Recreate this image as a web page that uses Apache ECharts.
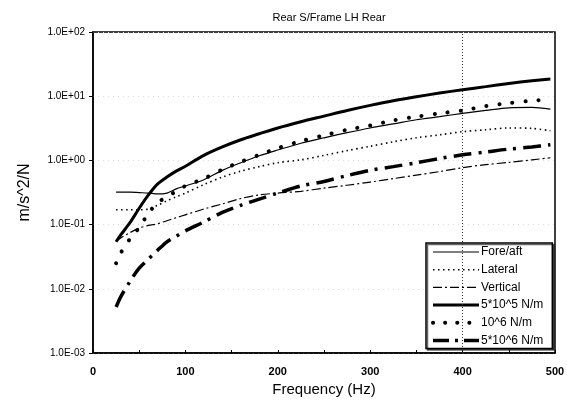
<!DOCTYPE html>
<html>
<head>
<meta charset="utf-8">
<script src="https://cdn.jsdelivr.net/npm/echarts@6/dist/echarts.min.js"></script>
<style>
html,body{margin:0;padding:0;background:#fff;}
#chart{width:567px;height:402px;}
</style>
</head>
<body>
<div id="chart"></div>
<script>
var titleText = 'Rear S/Frame LH Rear';
var xName = 'Frequency (Hz)';
var yName = 'm/s^2/N';
var seriesNames = ['Fore/aft', 'Lateral', 'Vertical', '5*10^5 N/m', '10^6 N/m', '5*10^6 N/m'];
var yTickLabels = ['1.0E-03', '1.0E-02', '1.0E-01', '1.0E+00', '1.0E+01', '1.0E+02'];
var xTickLabels = ['0', '100', '200', '300', '400', '500'];

var freq = [25, 30, 40, 50, 60, 70, 80, 90, 100, 120, 140, 160, 180, 200, 225, 250, 275, 300, 325, 350, 375, 400, 425, 450, 475, 495];
var foreAft = [0.32, 0.32, 0.32, 0.315, 0.31, 0.30, 0.31, 0.36, 0.40, 0.50, 0.70, 0.92, 1.18, 1.45, 1.85, 2.25, 2.7, 3.2, 3.7, 4.3, 4.8, 5.4, 6.0, 6.6, 6.7, 6.3];
var lateral = [0.17, 0.17, 0.17, 0.17, 0.175, 0.20, 0.235, 0.27, 0.31, 0.42, 0.55, 0.68, 0.80, 0.92, 1.02, 1.2, 1.42, 1.66, 1.95, 2.25, 2.5, 2.8, 3.0, 3.2, 3.15, 2.9];
var vertical = [0.055, 0.062, 0.075, 0.088, 0.097, 0.103, 0.115, 0.128, 0.142, 0.175, 0.21, 0.255, 0.29, 0.31, 0.33, 0.37, 0.41, 0.46, 0.52, 0.59, 0.67, 0.77, 0.86, 0.93, 1.02, 1.1];
var k5e5 = [0.054, 0.069, 0.107, 0.18, 0.29, 0.43, 0.55, 0.68, 0.81, 1.2, 1.62, 2.1, 2.6, 3.2, 4.0, 4.9, 6.0, 7.2, 8.5, 9.8, 11.2, 12.6, 14.1, 15.8, 17.4, 18.6];
var k1e6 = [0.025, 0.036, 0.06, 0.09, 0.15, 0.22, 0.27, 0.33, 0.40, 0.52, 0.72, 0.95, 1.22, 1.55, 2.0, 2.45, 3.0, 3.5, 4.2, 4.8, 5.4, 6.0, 7.0, 7.8, 8.5, 9.0];
var k5e6 = [0.0052, 0.0075, 0.013, 0.021, 0.029, 0.040, 0.054, 0.066, 0.08, 0.11, 0.155, 0.20, 0.25, 0.31, 0.40, 0.47, 0.58, 0.70, 0.80, 0.92, 1.07, 1.22, 1.35, 1.5, 1.62, 1.75];
var gridLineX = [400];

function pairs(vals) {
  return freq.map(function (f, i) { return [f, vals[i]]; });
}

var FONT = 'Liberation Sans';
var chart = echarts.init(document.getElementById('chart'));

var styles = [
  { width: 1.2, type: 'solid' },
  { width: 1.6, type: [1.5, 3.5] },
  { width: 1.2, type: [9, 3, 2, 3] },
  { width: 3, type: 'solid' },
  { width: 4, type: [0.1, 13], cap: 'round' },
  { width: 3.5, type: [18, 7, 3, 7] }
];
var legendStyles = [
  { width: 1.2, type: 'solid' },
  { width: 1.6, type: [1.5, 3.5] },
  { width: 1.2, type: [9, 3, 2, 3] },
  { width: 3, type: 'solid' },
  { width: 4, type: [0.1, 12], cap: 'round' },
  { width: 3.5, type: [16, 6, 3, 6] }
];
var datasets = [foreAft, lateral, vertical, k5e5, k1e6, k5e6];

var series = datasets.map(function (d, i) {
  return {
    name: seriesNames[i],
    type: 'line',
    data: pairs(d),
    showSymbol: false,
    symbol: 'none',
    smooth: 0.3,
    lineStyle: Object.assign({ color: '#000' }, styles[i]),
    itemStyle: { color: '#000' },
    z: 3
  };
});
series[0].markLine = {
  silent: true,
  symbol: 'none',
  label: { show: false },
  lineStyle: { color: '#333', type: [1, 2], width: 1 },
  data: gridLineX.map(function (x) { return { xAxis: x }; })
};

var option = {
  backgroundColor: '#fff',
  animation: false,
  title: {
    text: titleText,
    left: 324,
    textAlign: 'center',
    top: 7,
    textStyle: { fontFamily: FONT, fontSize: 11, fontWeight: 'normal', color: '#000' }
  },
  grid: {
    left: 93, right: 12, top: 32, bottom: 49,
    containLabel: false,
    outerBoundsMode: 'none',
    show: true, borderColor: '#000', borderWidth: 1.5, backgroundColor: 'transparent'
  },
  legend: {
    orient: 'vertical',
    left: 426,
    top: 243,
    padding: [3, 9, 2, 5],
    itemGap: 5.7,
    itemWidth: 46,
    itemHeight: 11,
    backgroundColor: '#fff',
    borderColor: '#000',
    borderWidth: 1.5,
    shadowColor: 'rgba(0,0,0,0.6)',
    shadowOffsetX: 1.5,
    shadowOffsetY: 1.5,
    shadowBlur: 0,
    itemStyle: { opacity: 0 },
    data: seriesNames.map(function (n, i) {
      return { name: n, lineStyle: Object.assign({ color: '#000' }, legendStyles[i]) };
    }),
    textStyle: { fontFamily: FONT, fontSize: 12, color: '#000', padding: [0, 0, 0, -3] }
  },
  xAxis: {
    type: 'value',
    min: 0, max: 500, interval: 50,
    name: xName,
    nameLocation: 'middle',
    nameGap: 29,
    nameTextStyle: { fontFamily: FONT, fontSize: 15, color: '#000' },
    axisLine: { show: true, lineStyle: { color: '#000', width: 1.5 } },
    axisTick: { show: true, inside: true, length: 3, lineStyle: { color: '#000' } },
    axisLabel: {
      fontFamily: FONT, fontSize: 11, color: '#000', margin: 13, fontWeight: 'bold',
      formatter: function (v) { return v % 100 === 0 ? xTickLabels[v / 100] : ''; }
    },
    splitLine: { show: false }
  },
  yAxis: {
    type: 'log',
    logBase: 10,
    min: 0.001, max: 100,
    name: yName,
    nameLocation: 'middle',
    nameGap: 60,
    nameRotate: 90,
    nameTextStyle: { fontFamily: FONT, fontSize: 16, color: '#000' },
    axisLine: { show: true, lineStyle: { color: '#000', width: 1.5 } },
    axisTick: { show: true, inside: false, length: 4, lineStyle: { color: '#000' } },
    axisLabel: {
      fontFamily: FONT, fontSize: 10, color: '#000', margin: 8,
      formatter: function (v) {
        var e = Math.round(Math.log10(v));
        return yTickLabels[e + 3];
      }
    },
    splitLine: { show: true, lineStyle: { color: '#ddd', type: [1, 4], width: 1 } }
  },
  series: series
};
chart.setOption(option);
</script>
</body>
</html>
